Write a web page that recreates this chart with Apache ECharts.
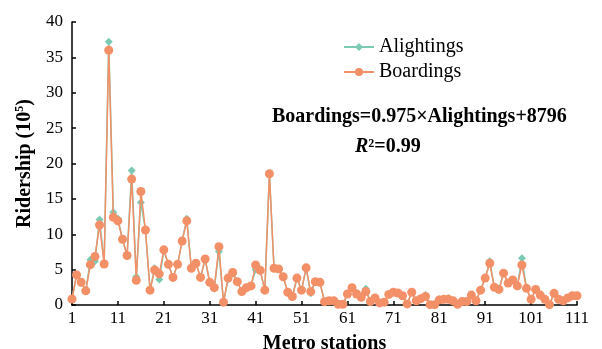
<!DOCTYPE html>
<html>
<head>
<meta charset="utf-8">
<script src="https://cdn.jsdelivr.net/npm/echarts@6/dist/echarts.min.js"></script>
<style>html,body{margin:0;padding:0;background:#fff}#c{width:602px;height:349px}</style>
</head>
<body>
<div id="c"></div>
<script>
var stations = [];
for (var i = 1; i <= 111; i++) stations.push(String(i));

var boardings = [
 0.85, 4.25, 3.2, 2.0, 5.7, 6.85, 11.3, 5.8, 36.0, 12.4,
 11.9, 9.3, 7.0, 17.8, 3.5, 16.05, 10.6, 2.1, 4.95, 4.4,
 7.8, 5.75, 3.9, 5.75, 9.05, 11.9, 5.2, 5.9, 3.9, 6.5,
 3.2, 2.45, 8.25, 0.4, 3.8, 4.6, 3.3, 1.9, 2.45, 2.7,
 5.65, 4.9, 2.1, 18.55, 5.2, 5.1, 4.0, 1.8, 1.2, 3.8,
 2.1, 5.25, 1.9, 3.3, 3.2, 0.47, 0.6, 0.6, 0.1, 0.1,
 1.55, 2.45, 1.55, 1.1, 1.9, 0.5, 1.0, 0.3, 0.4, 1.5,
 1.8, 1.7, 1.3, 0.15, 1.8, 0.6, 0.9, 1.2, 0.05, 0.05,
 0.7, 0.8, 0.8, 0.6, 0.1, 0.5, 0.5, 1.4, 0.6, 2.1,
 3.8, 5.9, 2.5, 2.2, 4.5, 3.1, 3.55, 2.7, 5.65, 2.35,
 0.8, 2.2, 1.4, 0.8, 0.05, 1.65, 0.8, 0.6, 1.0, 1.3,
 1.3
];

var alightings = [
 0.85, 4.25, 3.2, 2.0, 6.4, 6.2, 12.1, 6.0, 37.2, 13.1,
 12.2, 9.3, 7.0, 19.0, 4.0, 14.5, 10.6, 2.1, 5.2, 3.6,
 7.7, 5.75, 3.9, 5.75, 9.05, 12.2, 5.2, 5.9, 3.9, 6.5,
 3.2, 2.45, 7.55, 0.4, 3.6, 4.4, 3.3, 1.9, 2.45, 2.7,
 5.0, 4.8, 2.1, 18.55, 5.2, 5.1, 4.0, 1.8, 1.2, 3.8,
 2.1, 5.25, 1.65, 3.3, 3.2, 0.47, 0.6, 0.6, 0.1, 0.1,
 1.55, 2.45, 1.7, 1.3, 2.3, 0.5, 1.0, 0.3, 0.4, 1.5,
 1.8, 1.7, 1.3, 0.15, 1.8, 0.6, 0.9, 1.4, 0.05, 0.05,
 0.8, 0.8, 1.0, 0.6, 0.1, 0.5, 0.5, 1.4, 0.6, 2.1,
 3.8, 6.2, 2.5, 2.2, 4.5, 3.1, 3.55, 2.7, 6.6, 2.35,
 0.8, 2.2, 1.4, 0.8, 0.05, 1.65, 0.8, 0.6, 1.0, 1.3,
 1.3
];

var yTicks = [0, 5, 10, 15, 20, 25, 30, 35, 40];

var FONT = '"Liberation Serif", "Times New Roman", serif';
var TEAL = '#7ccab4';
var ORANGE = '#f39068';

var chart = echarts.init(document.getElementById('c'), null, {renderer: 'canvas'});
chart.setOption({
  animation: false,
  backgroundColor: '#fff',
  grid: {left: 72, right: 25, top: 22, bottom: 44, containLabel: false, outerBoundsMode: 'none'},
  legend: {
    orient: 'vertical',
    left: 338, top: 32,
    itemWidth: 30, itemHeight: 10, itemGap: 5,
    textStyle: {fontFamily: FONT, fontSize: 20, color: '#000'},
    data: ['Alightings', 'Boardings']
  },
  xAxis: {
    type: 'category',
    data: stations,
    boundaryGap: false,
    name: 'Metro stations',
    nameLocation: 'middle',
    nameGap: 29,
    nameTextStyle: {fontFamily: FONT, fontSize: 20, fontWeight: 'bold', color: '#000'},
    axisLine: {lineStyle: {color: '#000', width: 1.5}},
    axisTick: {inside: true, length: 4, interval: 9, alignWithLabel: true, lineStyle: {color: '#000', width: 1.5}},
    axisLabel: {interval: 9, fontFamily: FONT, fontSize: 17, color: '#000', margin: 5},
    splitLine: {show: false}
  },
  yAxis: {
    type: 'value',
    min: yTicks[0], max: yTicks[yTicks.length - 1], interval: 5,
    name: 'Ridership (10{sup|5})',
    nameLocation: 'middle',
    nameGap: 36,
    nameTextStyle: {
      fontFamily: FONT, fontSize: 20, fontWeight: 'bold', color: '#000',
      rich: {sup: {fontFamily: FONT, fontSize: 12, fontWeight: 'bold', color: '#000', verticalAlign: 'top', padding: [0, 0, 10, 0]}}
    },
    axisLine: {show: true, lineStyle: {color: '#000', width: 1.5}},
    axisTick: {show: true, inside: true, length: 4, lineStyle: {color: '#000', width: 1.5}},
    axisLabel: {fontFamily: FONT, fontSize: 17, color: '#000', margin: 9},
    splitLine: {show: false}
  },
  series: [
    {
      name: 'Alightings', type: 'line', data: alightings,
      symbol: 'diamond', symbolSize: 8, showAllSymbol: true,
      lineStyle: {color: TEAL, width: 1.5},
      itemStyle: {color: TEAL},
      z: 2
    },
    {
      name: 'Boardings', type: 'line', data: boardings,
      symbol: 'circle', symbolSize: 9, showAllSymbol: true,
      lineStyle: {color: ORANGE, width: 1.5},
      itemStyle: {color: ORANGE},
      z: 3
    }
  ],
  graphic: [
    {
      type: 'text', left: 272, top: 107,
      style: {text: 'Boardings=0.975\u00d7Alightings+8796', font: 'bold 20px ' + FONT, fill: '#000'}
    },
    {
      type: 'text', left: 355, top: 137,
      style: {
        text: '{i|R}{n|\u00b2=0.99}',
        rich: {
          i: {font: 'italic bold 20px ' + FONT, fill: '#000'},
          n: {font: 'bold 20px ' + FONT, fill: '#000'}
        }
      }
    }
  ]
});
</script>
</body>
</html>
